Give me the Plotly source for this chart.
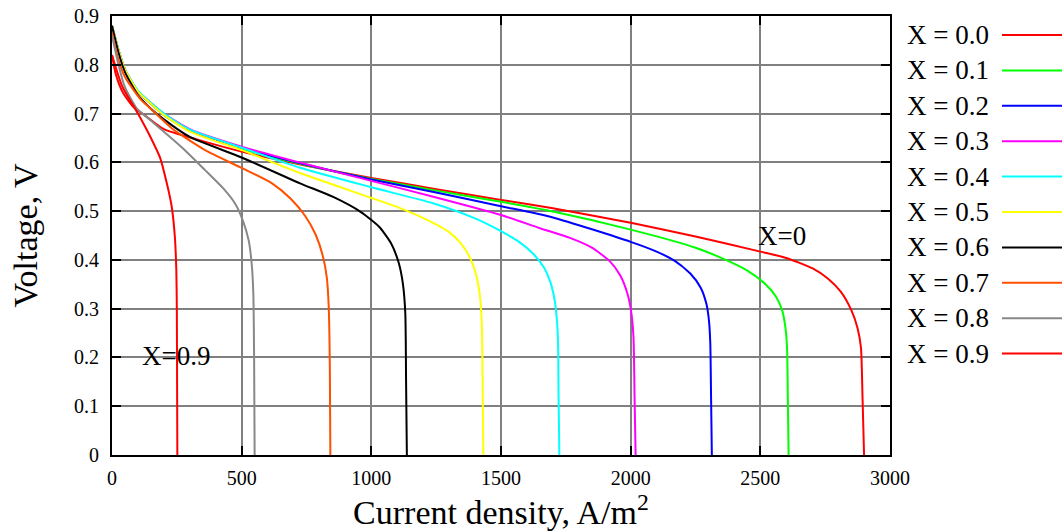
import plotly.graph_objects as go

# ---- data ----
labels = ["X = 0.0", "X = 0.1", "X = 0.2", "X = 0.3", "X = 0.4",
          "X = 0.5", "X = 0.6", "X = 0.7", "X = 0.8", "X = 0.9"]
colors = ["#ff0000", "#00ff00", "#0000ff", "#ff00ff", "#00ffff",
          "#ffff00", "#000000", "#ff4f00", "#888888", "#ff0000"]

j_x00 = [0, 15, 40, 80, 130, 200, 340, 500, 750, 1000, 1250, 1500, 1700, 2000, 2250, 2500, 2600, 2700, 2760, 2810, 2850, 2875, 2888, 2894, 2900]
v_x00 = [0.82, 0.78, 0.745, 0.715, 0.695, 0.668, 0.645, 0.622, 0.593, 0.568, 0.545, 0.523, 0.506, 0.476, 0.448, 0.417, 0.404, 0.383, 0.362, 0.335, 0.298, 0.26, 0.22, 0.12, 0.0]

j_x01 = [0, 25, 50, 100, 150, 200, 300, 500, 750, 1000, 1250, 1500, 1700, 2000, 2250, 2345, 2450, 2520, 2560, 2585, 2597, 2603, 2606, 2609]
v_x01 = [0.88, 0.83, 0.79, 0.745, 0.72, 0.697, 0.665, 0.628, 0.594, 0.566, 0.542, 0.519, 0.499, 0.462, 0.425, 0.405, 0.378, 0.35, 0.325, 0.295, 0.26, 0.22, 0.12, 0.0]

j_x02 = [0, 25, 50, 100, 150, 200, 300, 500, 750, 1000, 1250, 1500, 1700, 2000, 2100, 2170, 2230, 2270, 2292, 2302, 2307, 2310, 2313]
v_x02 = [0.88, 0.83, 0.79, 0.745, 0.72, 0.697, 0.665, 0.63, 0.595, 0.565, 0.538, 0.51, 0.487, 0.437, 0.417, 0.398, 0.372, 0.343, 0.31, 0.275, 0.23, 0.12, 0.0]

j_x03 = [0, 25, 50, 100, 150, 200, 300, 500, 750, 1000, 1250, 1500, 1650, 1766, 1850, 1920, 1960, 1988, 2003, 2011, 2015, 2019]
v_x03 = [0.88, 0.83, 0.79, 0.746, 0.722, 0.70, 0.668, 0.632, 0.596, 0.562, 0.528, 0.492, 0.465, 0.445, 0.425, 0.397, 0.368, 0.33, 0.29, 0.24, 0.12, 0.0]

j_x04 = [0, 25, 50, 100, 150, 200, 300, 500, 725, 1000, 1238, 1400, 1496, 1570, 1625, 1665, 1690, 1706, 1715, 1720, 1722, 1725]
v_x04 = [0.88, 0.83, 0.79, 0.747, 0.722, 0.70, 0.667, 0.63, 0.589, 0.549, 0.516, 0.485, 0.46, 0.437, 0.412, 0.385, 0.355, 0.32, 0.28, 0.23, 0.12, 0.0]

j_x05 = [0, 25, 50, 100, 150, 200, 300, 500, 725, 1000, 1111, 1238, 1300, 1345, 1380, 1404, 1419, 1426, 1429, 1432]
v_x05 = [0.88, 0.83, 0.79, 0.745, 0.72, 0.697, 0.663, 0.625, 0.578, 0.527, 0.506, 0.476, 0.457, 0.434, 0.405, 0.37, 0.325, 0.27, 0.15, 0.0]

j_x06 = [0, 25, 50, 100, 150, 200, 300, 500, 725, 853, 960, 1030, 1075, 1105, 1122, 1131, 1134, 1137]
v_x06 = [0.88, 0.825, 0.785, 0.738, 0.71, 0.688, 0.652, 0.61, 0.557, 0.529, 0.498, 0.468, 0.435, 0.395, 0.35, 0.29, 0.15, 0.0]

j_x07 = [0, 25, 50, 112, 147, 230, 359, 494, 617, 690, 745, 785, 812, 828, 836, 840, 842]
v_x07 = [0.865, 0.81, 0.775, 0.728, 0.711, 0.67, 0.625, 0.59, 0.557, 0.525, 0.49, 0.452, 0.41, 0.365, 0.3, 0.18, 0.0]

j_x08 = [0, 25, 49, 96, 147, 271, 359, 430, 475, 505, 527, 539, 545, 548, 550]
v_x08 = [0.86, 0.80, 0.755, 0.71, 0.687, 0.63, 0.584, 0.546, 0.515, 0.48, 0.44, 0.39, 0.33, 0.2, 0.0]

j_x09 = [0, 40, 100, 150, 185, 210, 230, 242, 248, 250, 251, 252]
v_x09 = [0.82, 0.755, 0.70, 0.65, 0.61, 0.56, 0.51, 0.45, 0.38, 0.3, 0.15, 0.0]

currents = [j_x00, j_x01, j_x02, j_x03, j_x04, j_x05, j_x06, j_x07, j_x08, j_x09]
voltages = [v_x00, v_x01, v_x02, v_x03, v_x04, v_x05, v_x06, v_x07, v_x08, v_x09]

x_ticks = [0, 500, 1000, 1500, 2000, 2500, 3000]
y_ticks = [0, 0.1, 0.2, 0.3, 0.4, 0.5, 0.6, 0.7, 0.8, 0.9]

FONT = "Liberation Serif"

fig = go.Figure()
for name, col, jx, vy in zip(labels, colors, currents, voltages):
    fig.add_trace(go.Scatter(x=jx, y=vy, mode="lines", name=name,
                             line=dict(color=col, width=2, shape="spline", smoothing=0.6),
                             showlegend=False))

# manual legend (text left, line sample right); window coords -> paper coords
W_PLOT = 778.0
H_PLOT = 439.0
for i, (name, col) in enumerate(zip(labels, colors)):
    py = 35 + i * 35.4
    yp = (455 - py) / H_PLOT
    fig.add_annotation(xref="paper", yref="paper", x=(905 - 112) / W_PLOT, y=yp,
                       text=name, showarrow=False, xanchor="left", yanchor="middle",
                       font=dict(family=FONT, size=27, color="black"))
    fig.add_shape(type="line", xref="paper", yref="paper",
                  x0=(1002 - 112) / W_PLOT, x1=(1070 - 112) / W_PLOT, y0=yp, y1=yp,
                  line=dict(color=col, width=2))

fig.add_annotation(x=2584, y=0.449, text="X=0", showarrow=False,
                   font=dict(family=FONT, size=27, color="black"))
fig.add_annotation(x=247, y=0.203, text="X=0.9", showarrow=False,
                   font=dict(family=FONT, size=27, color="black"))

axis_common = dict(showline=True, linecolor="black", linewidth=2, mirror="ticks",
                   ticks="inside", ticklen=9, tickwidth=2, tickcolor="black",
                   showgrid=True, gridcolor="#808080", gridwidth=2, zeroline=False,
                   automargin=False,
                   tickfont=dict(family=FONT, size=20, color="black"))

fig.update_xaxes(range=[0, 3000], tickvals=x_ticks, ticktext=[str(v) for v in x_ticks],
                 ticklabelstandoff=4,
                 title=dict(text="Current density, A/m<sup>2</sup>", standoff=2,
                            font=dict(family=FONT, size=34, color="black")),
                 **axis_common)
fig.update_yaxes(range=[0, 0.9], tickvals=y_ticks, ticktext=[f"{v:g}" for v in y_ticks],
                 ticklabelstandoff=7,
                 title=dict(text="Voltage, V", standoff=26,
                            font=dict(family=FONT, size=34, color="black")),
                 **axis_common)

# plot area at window x 112..890, y 16..455 (page body margin removed)
fig.update_layout(width=1062, height=531, autosize=False,
                  margin=dict(l=112, r=172, t=16, b=76),
                  plot_bgcolor="white", paper_bgcolor="white",
                  font=dict(family=FONT, color="black"))

fig.write_html("out.html", config={"displayModeBar": False},
               post_script="document.body.style.margin='0';document.body.style.overflow='hidden';")
